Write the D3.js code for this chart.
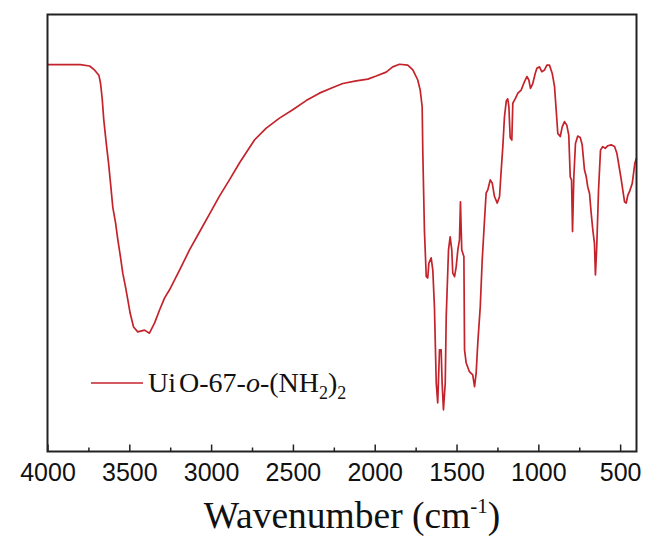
<!DOCTYPE html>
<html>
<head>
<meta charset="utf-8">
<script src="https://cdn.jsdelivr.net/npm/d3@7"></script>
<style>
  html, body { margin: 0; padding: 0; background: #fff; }
  svg { display: block; }
</style>
</head>
<body>
<svg id="chart" width="649" height="540"></svg>
<script>
// ---- data ----
const seriesName = "UiO-67-o-(NH2)2";
const wavenumber = [
  4000, 3800, 3743, 3713, 3686, 3676, 3666, 3656, 3641, 3627, 3615, 3601, 3584, 3570, 3554, 3540, 3523, 3509, 3495, 3474,
  3448, 3407, 3377, 3346, 3315, 3285, 3254, 3193, 3132, 3071, 3010, 2949, 2888, 2826, 2735, 2663, 2582, 2501, 2419, 2338,
  2256, 2195, 2113, 2042, 1991, 1930, 1890, 1849, 1798, 1767, 1747, 1737, 1722, 1710, 1706, 1696, 1685, 1676, 1669, 1655,
  1645, 1635, 1624, 1615, 1604, 1594, 1588, 1580, 1569, 1563, 1549, 1539, 1529, 1523, 1512, 1502, 1492, 1482, 1476, 1468,
  1455, 1451, 1441, 1421, 1401, 1390, 1380, 1370, 1355, 1343, 1329, 1319, 1309, 1294, 1282, 1268, 1251, 1237, 1228, 1217,
  1207, 1196, 1187, 1180, 1172, 1162, 1156, 1140, 1125, 1105, 1085, 1070, 1058, 1048, 1034, 1019, 1009, 993, 979, 962,
  948, 932, 915, 901, 891, 881, 866, 854, 840, 826, 814, 805, 797, 791, 783, 773, 759, 744, 732, 718,
  707, 698, 687, 677, 667, 657, 651, 643, 632, 620, 606, 591, 575, 555, 534, 520, 508, 493, 484, 473,
  463, 453, 443, 426, 418, 410, 400
];
const transmittance = [
  88.2, 88.2, 87.9, 87.0, 85.8, 84.0, 80.6, 75.6, 70.3, 65.8, 61.2, 55.7, 52.1, 48.2, 44.3, 40.6, 37.4, 34.5, 31.5, 28.3,
  27.2, 27.6, 26.9, 29.2, 32.2, 34.9, 36.8, 41.3, 45.9, 50.0, 54.1, 58.2, 61.9, 65.8, 71.0, 73.7, 76.0, 77.9, 80.0, 81.7,
  83.0, 83.9, 84.5, 84.9, 85.6, 86.5, 87.7, 88.3, 88.1, 87.0, 85.5, 84.7, 82.4, 78.6, 68.0, 50.1, 39.8, 39.5, 42.9, 44.1,
  41.3, 32.9, 15.5, 11.0, 23.1, 23.1, 15.5, 9.4, 15.5, 30.7, 45.9, 48.9, 45.9, 40.6, 39.8, 42.1, 45.9, 48.2, 56.9, 45.9,
  44.4, 23.1, 20.1, 18.1, 17.4, 14.7, 17.8, 24.7, 32.9, 43.6, 52.7, 58.9, 59.6, 61.9, 61.2, 58.1, 56.6, 58.1, 63.5, 69.5,
  76.3, 79.9, 80.4, 78.6, 71.5, 71.0, 79.4, 80.5, 81.7, 82.4, 84.3, 85.5, 84.7, 82.8, 83.9, 86.2, 87.4, 87.7, 86.6, 87.0,
  88.1, 88.1, 86.2, 83.2, 77.9, 72.5, 71.8, 74.0, 75.2, 74.4, 72.1, 62.6, 61.9, 50.1, 62.6, 70.2, 71.9, 71.6, 69.9, 64.2,
  62.6, 60.3, 58.8, 54.3, 50.5, 47.4, 40.2, 46.6, 59.6, 68.7, 69.5, 69.1, 69.7, 69.9, 69.5, 68.0, 65.3, 61.9, 59.6, 56.9,
  56.6, 58.4, 59.2, 61.1, 63.4, 65.7, 66.9
];
const majorTicks = [4000, 3500, 3000, 2500, 2000, 1500, 1000, 500];
const minorTicks = [3750, 3250, 2750, 2250, 1750, 1250, 750];
const xDomain = [4000, 400];
const yDomain = [0, 100];

// ---- layout ----
const svg = d3.select("#chart");
const L = 47.5, R = 636.5, T = 14.5, B = 451.5;
const x = d3.scaleLinear().domain(xDomain).range([L, R]);
const y = d3.scaleLinear().domain(yDomain).range([451, 13]);

const data = wavenumber.map((w, i) => ({ w, t: transmittance[i] }));

// spectrum
svg.append("path")
  .datum(data)
  .attr("fill", "none")
  .attr("stroke", "#c4232b")
  .attr("stroke-width", 1.7)
  .attr("stroke-linejoin", "round")
  .attr("d", d3.line().x(d => x(d.w)).y(d => y(d.t)));

// bottom axis: major ticks (inward)
const axMajor = d3.axisBottom(x).tickValues(majorTicks).tickSize(-7).tickPadding(12).tickFormat(d3.format("d"));
const gMaj = svg.append("g").attr("transform", `translate(0,${B})`).call(axMajor);
gMaj.select(".domain").remove();
gMaj.selectAll(".tick line").attr("stroke", "#222").attr("stroke-width", 1.5);
gMaj.selectAll(".tick text")
  .attr("font-family", "'Liberation Sans', Arial, sans-serif")
  .attr("font-size", 25)
  .attr("fill", "#111")
  .attr("dy", "0.71em");

const axMinor = d3.axisBottom(x).tickValues(minorTicks).tickSize(-4).tickFormat("");
const gMin = svg.append("g").attr("transform", `translate(0,${B})`).call(axMinor);
gMin.select(".domain").remove();
gMin.selectAll(".tick line").attr("stroke", "#222").attr("stroke-width", 1.5);

// frame
svg.append("rect")
  .attr("x", L).attr("y", T)
  .attr("width", R - L).attr("height", B - T)
  .attr("fill", "none")
  .attr("stroke", "#222")
  .attr("stroke-width", 2);

// axis title
const title = svg.append("text")
  .attr("x", 352).attr("y", 528)
  .attr("text-anchor", "middle")
  .attr("font-family", "'Liberation Serif', 'Times New Roman', serif")
  .attr("font-size", 37.5)
  .attr("fill", "#111");
title.append("tspan").text("Wavenumber (cm");
title.append("tspan").attr("font-size", 21).attr("dy", -15).text("-1");
title.append("tspan").attr("dy", 15).text(")");

// legend
const lg = svg.append("g");
lg.append("line")
  .attr("x1", 91).attr("x2", 143).attr("y1", 383).attr("y2", 383)
  .attr("stroke", "#c4232b").attr("stroke-width", 1.6);
const lt = lg.append("text")
  .attr("x", 148).attr("y", 392)
  .attr("font-family", "'Liberation Serif', 'Times New Roman', serif")
  .attr("font-size", 28)
  .attr("fill", "#111");
lt.append("tspan").text("Ui");
lt.append("tspan").attr("dx", 3).text("O-67-");
lt.append("tspan").attr("font-style", "italic").text("o");
lt.append("tspan").text("-(NH");
lt.append("tspan").attr("font-size", 18).attr("dy", 7).text("2");
lt.append("tspan").attr("dy", -7).text(")");
lt.append("tspan").attr("font-size", 18).attr("dy", 7).text("2");
</script>
</body>
</html>
